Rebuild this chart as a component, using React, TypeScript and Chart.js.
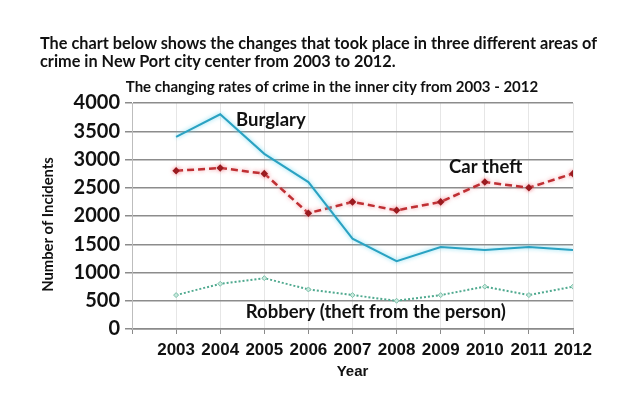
import React, { useEffect, useRef } from "react";
import { Chart, registerables } from "chart.js";

Chart.register(...registerables);

const years = [2003, 2004, 2005, 2006, 2007, 2008, 2009, 2010, 2011, 2012];
const burglary = [3400, 3800, 3100, 2600, 1600, 1200, 1450, 1400, 1450, 1400];
const carTheft = [2800, 2850, 2750, 2050, 2250, 2100, 2250, 2600, 2500, 2750];
const robbery = [600, 800, 900, 700, 600, 500, 600, 750, 600, 750];
const yTicks = [0, 500, 1000, 1500, 2000, 2500, 3000, 3500, 4000];

const heading1 = "The chart below shows the changes that took place in three different areas of";
const heading2 = "crime in New Port city center from 2003 to 2012.";
const chartTitle = "The changing rates of crime in the inner city from 2003 - 2012";
const seriesNames = ["Burglary", "Car theft", "Robbery (theft from the person)"];
const yTitle = "Number of Incidents";
const xTitle = "Year";

const FONT = "Lato, 'Open Sans', sans-serif";

const glowPlugin = {
  id: "glow",
  beforeDatasetDraw(chart: any, args: any) {
    const ds = chart.data.datasets[args.index] as any;
    const ctx = chart.ctx;
    ctx.save();
    ctx.shadowColor = ds.glowColor || "transparent";
    ctx.shadowBlur = ds.glowBlur || 0;
  },
  afterDatasetDraw(chart: any) {
    chart.ctx.restore();
  },
};

const labelPlugin = {
  id: "seriesLabels",
  afterDatasetsDraw(chart: any) {
    const { ctx, scales } = chart;
    const x = scales.x;
    const y = scales.y;
    const items = [
      { text: seriesNames[0], xv: 2004.36, yv: 3700 },
      { text: seriesNames[1], xv: 2009.19, yv: 2870 },
      { text: seriesNames[2], xv: 2004.58, yv: 300 },
    ];
    ctx.save();
    ctx.fillStyle = "#111";
    ctx.font = `bold 18.5px ${FONT}`;
    ctx.textAlign = "left";
    ctx.textBaseline = "middle";
    for (const it of items) {
      ctx.fillText(it.text, x.getPixelForValue(it.xv), y.getPixelForValue(it.yv));
    }
    // y-axis title, centred slightly below the middle of the axis as in the original
    ctx.font = `bold 14.8px ${FONT}`;
    ctx.textAlign = "center";
    ctx.translate(48, y.getPixelForValue(1850));
    ctx.rotate(-Math.PI / 2);
    ctx.fillText(yTitle, 0, 0);
    ctx.restore();
  },
};

export default function App() {
  const ref = useRef<HTMLCanvasElement | null>(null);

  useEffect(() => {
    if (!ref.current) return;
    const pts = (vals: number[]) => years.map((yr, i) => ({ x: yr, y: vals[i] }));
    const chart = new Chart(ref.current, {
      type: "line",
      data: {
        datasets: [
          {
            label: seriesNames[0],
            data: pts(burglary),
            borderColor: "#2aa2c2",
            borderWidth: 2,
            pointRadius: 0,
            tension: 0,
            glowColor: "rgba(110,215,240,0.9)",
            glowBlur: 4,
          } as any,
          {
            label: seriesNames[1],
            data: pts(carTheft),
            borderColor: "#bf2f33",
            borderWidth: 2.5,
            borderDash: [7, 4],
            pointRadius: 2,
            pointStyle: "rectRot",
            pointBackgroundColor: "#9a1a1f",
            pointBorderColor: "#9a1a1f",
            tension: 0,
            glowColor: "rgba(240,130,140,0.8)",
            glowBlur: 4,
          } as any,
          {
            label: seriesNames[2],
            data: pts(robbery),
            borderColor: "#4fa98f",
            borderWidth: 2,
            borderDash: [2, 2],
            pointRadius: 2.5,
            pointStyle: "rectRot",
            pointBackgroundColor: "#c8e8dc",
            pointBorderColor: "#7cc0aa",
            pointBorderWidth: 1,
            tension: 0,
          } as any,
        ],
      },
      options: {
        animation: false,
        responsive: false,
        layout: { padding: { top: 103, left: 36, right: 67, bottom: 35 } },
        plugins: {
          legend: { display: false },
          tooltip: { enabled: false },
          title: { display: false },
        },
        scales: {
          x: {
            type: "linear",
            min: 2002,
            max: 2012,
            afterFit: (s: any) => {
              s.height = 56;
            },
            afterBuildTicks: (s: any) => {
              s.ticks = [2002, ...years].map((v) => ({ value: v }));
            },
            ticks: {
              callback: (v: any) => (years.includes(Number(v)) ? String(v) : ""),
              font: { family: "'Liberation Sans', Arial, sans-serif", size: 17, weight: "bold" },
              color: "#111",
              padding: 6,
              maxRotation: 0,
              autoSkip: false,
            },
            grid: {
              color: "#e6e6e6",
              lineWidth: 1,
              tickLength: 5,
              tickColor: "#8a8a8a",
            },
            border: { color: "#8a8a8a", width: 1.5 },
            title: {
              display: true,
              text: xTitle,
              font: { family: "'Liberation Sans', Arial, sans-serif", size: 15, weight: "bold" },
              color: "#111",
              padding: { top: 4, bottom: 4 },
            },
          },
          y: {
            min: 0,
            max: 4000,
            afterFit: (s: any) => {
              s.width = 96;
            },
            afterBuildTicks: (s: any) => {
              s.ticks = yTicks.map((v) => ({ value: v }));
            },
            ticks: {
              callback: (v: any) => String(v),
              font: { family: FONT, size: 20, weight: "bold" },
              color: "#111",
              padding: 5,
            },
            grid: {
              color: "#8c8c8c",
              lineWidth: 1.5,
              tickLength: 7,
            },
            border: { color: "#bdbdbd", width: 1 },
            title: { display: false },
          },
        },
      },
      plugins: [glowPlugin, labelPlugin],
    });
    return () => chart.destroy();
  }, []);

  return (
    <div
      style={{
        position: "fixed",
        left: 0,
        top: 0,
        width: 640,
        height: 420,
        background: "#fff",
        overflow: "hidden",
      }}
    >
      <canvas
        ref={ref}
        width={640}
        height={420}
        style={{ position: "absolute", left: 0, top: 0, width: 640, height: 420 }}
      />
      <div
        style={{
          position: "absolute",
          left: 40,
          top: 34,
          fontFamily: FONT,
          fontWeight: "bold",
          fontSize: 16.3,
          lineHeight: "18px",
          color: "#111",
          whiteSpace: "nowrap",
        }}
      >
        <div>{heading1}</div>
        <div>{heading2}</div>
      </div>
      <div
        style={{
          position: "absolute",
          left: 0,
          width: 664,
          top: 77,
          textAlign: "center",
          fontFamily: FONT,
          fontWeight: "bold",
          fontSize: 15,
          lineHeight: "18px",
          color: "#111",
          whiteSpace: "nowrap",
        }}
      >
        {chartTitle}
      </div>
    </div>
  );
}
